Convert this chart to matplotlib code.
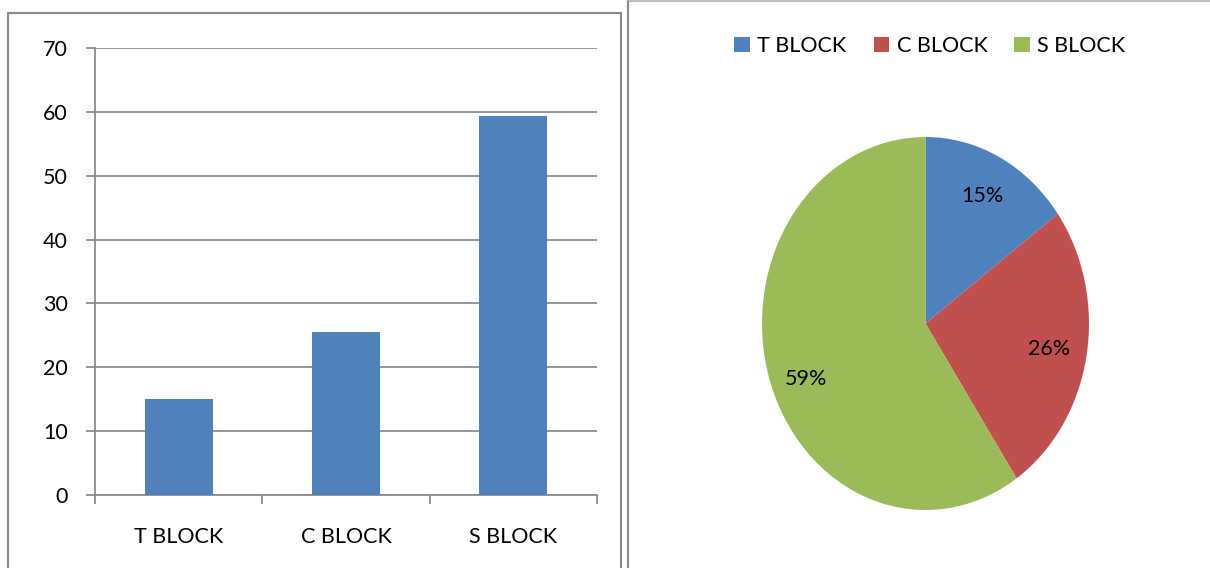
import matplotlib.pyplot as plt
from matplotlib.patches import Rectangle
from matplotlib.ticker import FixedLocator

blocks = ['T BLOCK', 'C BLOCK', 'S BLOCK']
counts = [15, 25.6, 59.4]
y_ticks = [0, 10, 20, 30, 40, 50, 60, 70]

colors = ['#4F81BD', '#C0504D', '#9BBB59']
grid_gray = '#8C8C8C'

plt.rcParams['font.family'] = ['Lato', 'DejaVu Sans']

fig = plt.figure(figsize=(12.1, 5.68), dpi=100)
W, H = 1210, 568


def fx(px):
    return px / W


def fy(py):
    return 1 - py / H


# panel frames
fig.patches.append(Rectangle((fx(8), fy(600)), fx(613), fy(13) - fy(600),
                             transform=fig.transFigure, fill=False,
                             edgecolor='#8A8A8A', linewidth=1.5))
fig.patches.append(Rectangle((fx(628), fy(600)), fx(700), fy(0.5) - fy(600),
                             transform=fig.transFigure, fill=False,
                             edgecolor='#8A8A8A', linewidth=1.5))
fig.patches.append(Rectangle((fx(629), fy(1)), fx(700), 0.01,
                             transform=fig.transFigure, fill=False,
                             edgecolor='#C8C8C8', linewidth=1.2))

# bar chart
ax = fig.add_axes([fx(95), fy(495), fx(597) - fx(95), fy(48) - fy(495)])
x = [i + 0.5 for i in range(len(blocks))]
ax.bar(x, counts, width=0.405, color=colors[0], zorder=3)
ax.set_xlim(0, 3)
ax.set_ylim(0, 70)
ax.set_yticks(y_ticks)
ax.yaxis.grid(True, color=grid_gray, linewidth=1.3)
ax.set_axisbelow(True)
for s in ['top', 'right']:
    ax.spines[s].set_visible(False)
for s in ['left', 'bottom']:
    ax.spines[s].set_color(grid_gray)
    ax.spines[s].set_linewidth(1.3)
ax.set_xticks(x)
ax.set_xticklabels(blocks)
ax.xaxis.set_minor_locator(FixedLocator([0, 1, 2, 3]))
ax.tick_params(axis='x', which='major', length=0, pad=23, labelsize=15.5)
ax.tick_params(axis='x', which='minor', length=6.5, width=1.3, color=grid_gray)
ax.tick_params(axis='y', length=6.5, width=1.3, color=grid_gray, pad=13,
               labelsize=15.5)

# pie chart
pax = fig.add_axes([fx(762), fy(510), fx(1089) - fx(762), fy(137) - fy(510)])
wedges, _, autotexts = pax.pie(counts, colors=colors, startangle=90,
                               counterclock=False, autopct='%.0f%%',
                               pctdistance=0.77,
                               textprops={'fontsize': 15.5})
pax.set_aspect('auto')
pax.set_xlim(-1, 1)
pax.set_ylim(-1, 1)
# the big slice's label sits a little lower than its mid-angle
autotexts[2].set_position((-0.73, -0.30))

fig.legend(wedges, blocks, loc='center', bbox_to_anchor=(fx(930), fy(46)),
           ncol=3, frameon=False, fontsize=15.5, handlelength=0.72,
           handleheight=0.72, handletextpad=0.35, columnspacing=1.25)

fig.savefig('out.png', dpi=100)
